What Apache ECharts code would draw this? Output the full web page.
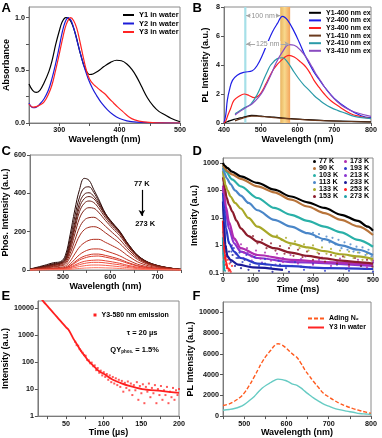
<!DOCTYPE html>
<html><head><meta charset="utf-8">
<script src="https://cdn.jsdelivr.net/npm/echarts@6/dist/echarts.min.js"></script>
<style>html,body{margin:0;padding:0;background:#fff}#c{width:382px;height:438px}</style>
</head><body><div id="c"></div>
<script>
// ---------- Panel A: absorbance ----------
const aY1 = [[250,0.37],[256,0.31],[262,0.29],[268,0.31],[274,0.37],[283,0.49],[289,0.61],[294,0.74],[300,0.87],[305,0.96],[311,1.0],[316,0.99],[322,0.93],[328,0.82],[334,0.68],[340,0.56],[345,0.49],[350,0.46],[356,0.465],[364,0.49],[374,0.535],[385,0.575],[395,0.595],[403,0.59],[412,0.56],[420,0.51],[428,0.44],[436,0.35],[446,0.24],[456,0.16],[465,0.11],[474,0.08],[485,0.045],[500,0.012]];
const aY2 = [[250,0.19],[253,0.16],[257,0.145],[262,0.15],[268,0.18],[275,0.23],[282,0.31],[288,0.42],[294,0.56],[300,0.72],[305,0.86],[310,0.96],[315,1.0],[320,0.97],[325,0.88],[330,0.77],[336,0.64],[342,0.52],[348,0.42],[355,0.33],[362,0.26],[370,0.19],[380,0.125],[390,0.075],[400,0.042],[412,0.02],[428,0.008],[450,0.003],[500,0]];
const aY3 = [[250,0.18],[253,0.16],[257,0.15],[262,0.155],[268,0.17],[275,0.2],[282,0.27],[288,0.36],[294,0.5],[300,0.65],[306,0.81],[312,0.94],[319,1.0],[324,0.97],[329,0.9],[334,0.78],[340,0.62],[345,0.5],[350,0.42],[356,0.37],[362,0.34],[368,0.31],[375,0.28],[383,0.23],[390,0.19],[397,0.15],[405,0.11],[415,0.06],[425,0.03],[440,0.01],[460,0.002],[500,0]];
const aNames = ['Y1 in water','Y2 in water','Y3 in water'];

// ---------- Panel B: PL spectra ----------
const bY1_400 = [[400,0],[410,0.1],[427,0.25],[445,0.35],[460,0.45],[475,0.52],[491,0.5],[510,0.45],[536,0.4],[560,0.34],[582,0.3],[620,0.24],[673,0.17],[720,0.13],[800,0.08]];
const bY2_400 = [[400,0],[405,0.6],[409,1.56],[415,2.3],[423,2.94],[436,3.3],[455,3.5],[477,3.6],[491,4.0],[505,4.7],[518,5.5],[532,6.3],[545,6.85],[559,7.36],[573,7.1],[591,6.3],[605,5.55],[618,4.8],[632,4.1],[645,3.5],[659,3.0],[673,2.5],[700,1.7],[736,1.0],[773,0.5],[800,0.35]];
const bY3_400 = [[400,0],[405,0.15],[410,0.5],[418,1.0],[427,1.56],[441,1.85],[455,2.0],[468,1.9],[482,1.75],[495,1.9],[505,2.25],[514,2.7],[525,3.25],[536,3.75],[555,4.3],[577,4.67],[591,4.55],[609,4.2],[623,3.86],[635,3.4],[645,2.94],[659,2.45],[673,2.0],[690,1.55],[709,1.2],[745,0.64],[770,0.45],[800,0.3]];
const bY1_410 = [[430,0.15],[445,0.28],[460,0.4],[475,0.48],[491,0.47],[510,0.43],[536,0.37],[560,0.32],[582,0.28],[620,0.22],[673,0.16],[720,0.12],[800,0.07]];
const bY2_410 = [[430,0.64],[440,0.8],[455,1.05],[473,1.3],[491,2.0],[500,2.5],[509,3.05],[518,3.55],[527,4.0],[545,4.44],[559,4.5],[573,4.2],[591,3.5],[605,3.0],[618,2.6],[632,2.25],[645,1.9],[659,1.6],[673,1.33],[690,1.08],[709,0.87],[730,0.68],[755,0.46],[800,0.3]];
const bY3_410 = [[430,0.55],[441,0.76],[459,1.05],[477,1.33],[495,1.8],[507,2.25],[518,2.8],[530,3.45],[541,4.1],[559,4.9],[577,5.4],[591,5.36],[609,5.0],[627,4.4],[640,3.85],[650,3.4],[662,2.95],[673,2.5],[690,1.95],[709,1.45],[730,1.05],[755,0.76],[800,0.46]];
const bNames = ['Y1-400 nm ex','Y2-400 nm ex','Y3-400 nm ex','Y1-410 nm ex','Y2-410 nm ex','Y3-410 nm ex'];
const bCyanBand = [455,461];
const bOrangeBand = [553,580];
const bArrow100 = [460,553,7.4];
const bArrow125 = [460,578,5.45];

// ---------- Panel C: temperature-dependent phosphorescence ----------
const cX = [430,460,480,495,505,515,525,535,545,555,565,575,590,605,620,640,665,700,750];
const c1 = [5,24,38,44,77,184,314,420,478,468,420,372,295,246,203,130,63,24,3];
const c2 = [4,20,33,40,65,160,280,380,428,434,405,362,292,244,200,128,62,23,3];
const c3 = [4,18,30,37,58,140,250,350,395,403,385,350,288,240,198,126,61,23,3];
const c4 = [4,17,28,35,54,128,232,328,372,383,372,340,283,236,195,124,60,22,3];
const c5 = [3,16,26,33,50,118,214,305,348,360,352,325,272,228,190,121,58,22,3];
const c6 = [3,14,23,30,44,104,188,270,312,325,322,302,258,217,180,115,56,21,3];
const c7 = [3,12,19,25,37,86,155,222,260,273,275,262,228,194,160,104,51,19,2];
const c8 = [2,10,16,21,30,68,124,178,210,223,226,220,194,167,139,91,45,17,2];
const c9 = [2,7,11,14,21,46,84,120,142,155,160,160,144,126,106,70,35,13,2];
const c10 = [1,5,8,10,14,31,56,80,96,106,110,110,100,88,74,49,25,9,1];
const c11 = [1,4,6,8,11,23,42,60,72,79,83,83,76,67,56,37,19,7,1];
const c12 = [1,3,5,7,9,20,36,52,62,69,72,73,67,59,49,33,17,6,1];
const c13 = [1,2,4,5,7,14,26,37,45,49,51,52,48,42,35,23,12,4,0];
const c14 = [0,2,3,4,5,11,20,28,34,38,40,40,37,32,27,18,9,3,0];
const c15 = [0,1,2,3,4,7,13,18,22,25,26,26,24,21,17,12,6,2,0];
const c16 = [0,1,1,1,2,3,6,8,10,11,12,12,11,10,8,5,3,1,0];
const cCurves = [c1,c2,c3,c4,c5,c6,c7,c8,c9,c10,c11,c12,c13,c14,c15,c16];
const cLabelTop = '77 K', cLabelBottom = '273 K';

// ---------- Panel D: decay curves ----------
const dTemps = ['77 K','90 K','103 K','113 K','133 K','153 K','173 K','193 K','213 K','233 K','253 K','273 K'];
const d77 = [[0,1000],[5,800],[14,656],[30,480],[59,325],[115,186],[171,106],[227,60],[282,37],[338,23],[394,13],[450,7.8],[483,4.8],[500,3.4]];
const d90 = [[0,900],[5,650],[14,500],[30,380],[59,260],[115,140],[171,85],[227,46],[282,26],[338,15],[394,8.5],[450,4.9],[500,2.4]];
const d103 = [[0,800],[5,600],[10,480],[30,250],[59,140],[115,53],[171,23],[227,13],[282,7.8],[338,4.8],[394,3.0],[450,1.6],[500,0.9]];
const d113 = [[0,650],[5,420],[12,280],[25,170],[40,100],[59,65],[85,35],[115,19],[171,8.5],[227,4.8],[282,2.8],[338,1.7],[394,1.0],[450,0.7],[500,0.45]];
const d133 = [[0,500],[3,300],[8,160],[15,100],[25,60],[40,35],[59,22],[85,10],[115,4.8],[171,2.1],[227,1.2],[282,0.85],[338,0.62],[394,0.48],[450,0.4],[500,0.32]];
const d153 = [[0,300],[3,200],[6,120],[12,55],[20,30],[31,17],[45,8],[59,4.2],[85,2.2],[115,1.37],[171,0.8],[227,0.55],[282,0.42],[338,0.34],[394,0.28],[450,0.25],[500,0.22]];
const d173 = [[0,150],[4,70],[10,25],[20,7],[37,1.8],[59,0.8],[115,0.45],[227,0.3],[340,0.25],[500,0.2]];
const d193 = [[0,80],[4,20],[10,4.2],[20,1.2],[37,0.6],[59,0.35],[115,0.22],[200,0.18],[350,0.15],[500,0.14]];
const d213 = [[0,120],[4,50],[10,15],[20,4],[37,1.2],[59,0.6],[115,0.35],[227,0.25],[500,0.18]];
const d233 = [[0,40],[3,8],[8,1.0],[15,0.4],[25,0.3],[50,0.2],[100,0.16],[200,0.13]];
const d253 = [[0,8],[3,1.5],[6,0.5],[10,0.25],[15,0.15],[25,0.12]];
const d273 = [[0,2],[2,0.3],[4,0.12]];
const dLines = [d77,d90,d103,d113,d133,d153,d173,d193,d213,d233,d253,d273];
const n113 = [[300,2.9],[310,2.0],[320,2.6],[330,1.5],[345,2.1],[355,1.3],[365,1.9],[375,1.1],[385,1.6],[395,0.8],[405,1.3],[415,0.7],[425,1.1],[435,0.6],[445,0.9],[455,0.55],[465,0.85],[475,0.45],[485,0.7],[495,0.4]];
const n133 = [[180,2.3],[195,1.6],[210,1.9],[225,1.0],[240,1.4],[255,0.8],[270,1.1],[285,0.65],[300,1.0],[315,0.55],[330,0.85],[345,0.5],[360,0.75],[375,0.42],[390,0.65],[405,0.38],[420,0.6],[435,0.35],[450,0.55],[465,0.3],[480,0.5],[495,0.28]];
const n153 = [[100,2.2],[115,1.2],[130,1.6],[145,0.8],[160,1.2],[175,0.65],[190,0.95],[205,0.5],[220,0.8],[235,0.42],[250,0.7],[265,0.38],[280,0.6],[300,0.3],[320,0.5],[340,0.26],[360,0.45],[380,0.22],[400,0.4],[420,0.2],[440,0.35],[460,0.18],[480,0.3],[498,0.17]];
const n173 = [[40,1.6],[50,0.9],[60,1.1],[70,0.55],[80,0.8],[95,0.4],[110,0.65],[125,0.33],[140,0.55],[160,0.28],[180,0.5],[200,0.25],[225,0.45],[250,0.22],[275,0.4],[300,0.2],[330,0.36],[360,0.18],[390,0.33],[420,0.17],[450,0.3],[480,0.16],[500,0.28]];
const n193 = [[20,1.3],[28,0.6],[36,0.8],[45,0.35],[55,0.55],[65,0.25],[78,0.45],[90,0.2],[105,0.38],[120,0.18],[140,0.32],[160,0.16],[185,0.28],[210,0.15],[240,0.25],[270,0.13],[300,0.22],[340,0.12],[380,0.2],[420,0.12],[460,0.18],[500,0.11]];
const n213 = [[30,1.0],[42,0.5],[55,0.7],[68,0.35],[82,0.55],[96,0.28],[110,0.45],[130,0.24],[150,0.4],[175,0.2],[200,0.35],[230,0.18],[260,0.32],[290,0.16],[320,0.3],[350,0.15],[380,0.27],[410,0.14],[440,0.25],[470,0.14],[500,0.24]];
const n233 = [[10,0.9],[15,0.4],[20,0.6],[26,0.25],[32,0.45],[40,0.18],[50,0.35],[60,0.15],[72,0.3],[85,0.13],[100,0.25],[120,0.12],[140,0.22],[165,0.11],[190,0.2],[220,0.11],[260,0.17]];
const n253 = [[3,0.8],[5,0.35],[7,0.6],[9,0.2],[11,0.4],[13,0.15],[16,0.3],[19,0.12],[22,0.22],[26,0.11],[30,0.18]];
const n273 = [[0,3],[1,1.2],[2,0.5],[3,0.25],[4,0.15],[5,0.3],[7,0.12]];
const dNoise = [null,null,null,n113,n133,n153,n173,n193,n213,n233,n253,n273];

// ---------- Panel E: Y3 580 nm decay ----------
const eName = 'Y3-580 nm emission';
const eLine = [[15,26000],[20,17000],[25,11860],[30,8220],[35,5710],[40,3960],[45,2750],[50,1910],[53,1600],[56,1150],[60,700],[65,420],[70,250],[75,165],[80,107],[85,78],[91,53],[96,42],[101,35],[111,23],[122,17],[134,13],[151,10],[176,8.5],[200,7.2]];
const eScatter = [[62,560],[64,420],[66,400],[68,300],[70,260],[72,220],[74,180],[76,170],[78,120],[80,115],[82,90],[84,95],[86,70],[88,75],[90,50],[92,60],[94,40],[96,48],[98,32],[100,42],[102,28],[104,36],[106,22],[108,32],[110,18],[112,28],[114,16],[116,25],[118,14],[120,22],[122,12],[124,20],[126,8],[128,17],[130,11],[132,19],[134,9],[136,16],[138,6],[140,14],[142,9],[144,18],[146,4],[148,13],[150,7],[152,15],[154,3],[156,12],[158,8],[160,16],[162,5],[164,11],[166,7],[168,14],[170,3],[172,10],[174,6],[176,13],[178,4],[180,9],[182,6],[184,12],[186,3],[188,8],[190,5],[192,11],[194,4],[196,9],[198,6],[200,10]];
const eTau = 'τ = 20 µs';
const eQY = '1.5%';

// ---------- Panel F: N2 purging ----------
const fNames = ['Ading N₂','Y3 in water'];
const fN2 = [[450,1016],[465,1180],[477,1430],[490,1800],[500,2220],[512,2950],[524,3800],[533,4500],[543,5240],[553,5850],[563,6350],[572,6800],[580,6980],[590,6850],[598,6600],[606,6300],[613,6030],[620,5800],[625,5650],[635,5050],[644,4440],[654,3880],[664,3330],[676,2750],[687,2220],[700,1850],[710,1590],[725,1250],[742,950],[758,720],[773,540],[788,380],[800,250]];
const fWater = [[450,570],[465,640],[477,730],[490,900],[500,1110],[512,1480],[524,1900],[533,2300],[543,2700],[553,3000],[563,3240],[572,3450],[580,3560],[590,3520],[598,3430],[606,3270],[613,3110],[620,3030],[625,2970],[635,2700],[644,2380],[654,2060],[664,1750],[676,1450],[687,1170],[700,960],[710,790],[725,620],[742,480],[758,370],[773,250],[788,200],[800,160]];

// ================= build chart =================
const FONT = 'Liberation Sans, Arial, sans-serif';
const chart = echarts.init(document.getElementById('c'), null, {renderer:'canvas'});
const plain = v => String(v);

function ax(gi, extra){
  const base = {
    gridIndex: gi, type:'value', nameLocation:'middle',
    nameTextStyle:{fontFamily:FONT, fontWeight:'bold', fontSize:9, color:'#000'},
    axisLine:{show:true, onZero:false, lineStyle:{color:'#7a7a7a', width:1}},
    axisTick:{show:true, inside:false, length:3, lineStyle:{color:'#555', width:1}},
    splitLine:{show:false},
    axisLabel:{fontFamily:FONT, fontWeight:'bold', fontSize:7.2, color:'#111', margin:4, formatter:plain}
  };
  const o = Object.assign({}, base, extra);
  if (extra.axisLabel) o.axisLabel = Object.assign({}, base.axisLabel, extra.axisLabel);
  if (extra.axisTick) o.axisTick = Object.assign({}, base.axisTick, extra.axisTick);
  return o;
}
const grids = [
  {left:29, top:7, width:151, height:116},
  {left:224, top:7, width:147, height:116},
  {left:30, top:155, width:151, height:115},
  {left:223, top:158, width:150, height:115},
  {left:29, top:301, width:150, height:116},
  {left:223, top:302, width:148, height:115}
].map(g => Object.assign({show:true, borderColor:'#8a8a8a', borderWidth:1, backgroundColor:'transparent'}, g));

const xAxes = [
  ax(0,{min:250,max:500,name:'Wavelength (nm)',nameGap:11,axisLabel:{customValues:[300,400,500]},axisTick:{customValues:[250,300,350,400,450,500]}}),
  ax(1,{min:400,max:800,interval:100,name:'Wavelength (nm)',nameGap:11}),
  ax(2,{min:430,max:750,name:'Wavelength (nm)',nameGap:11,axisLabel:{customValues:[500,600,700]},axisTick:{customValues:[450,500,550,600,650,700,750]}}),
  ax(3,{min:0,max:500,interval:100,name:'Time (ms)',nameGap:11}),
  ax(4,{min:12.5,max:200,name:'Time (µs)',nameGap:11,axisLabel:{customValues:[50,100,150,200]},axisTick:{customValues:[25,50,75,100,125,150,175,200]}}),
  ax(5,{min:450,max:800,name:'Wavelength (nm)',nameGap:11,axisLabel:{customValues:[500,600,700,800]},axisTick:{customValues:[450,500,550,600,650,700,750,800]}})
];
const yAxes = [
  ax(0,{min:0,max:1.1,name:'Absorbance',nameGap:16,axisLabel:{customValues:[0,0.5,1.0],formatter:v=>v.toFixed(1)},axisTick:{customValues:[0,0.25,0.5,0.75,1.0]}}),
  ax(1,{min:0,max:8,interval:2,name:'PL Intensity (a.u.)',nameGap:14}),
  ax(2,{min:0,max:600,interval:200,name:'Phos. Intensity (a.u.)',nameGap:17}),
  ax(3,{type:'log',logBase:10,min:0.1,max:1500,name:'Intensity (a.u.)',nameGap:19,axisLabel:{customValues:[0.1,1,10,100,1000]},axisTick:{customValues:[0.1,1,10,100,1000]}}),
  ax(4,{type:'log',logBase:10,min:1,max:18000,name:'Intensity (a.u.)',nameGap:21,axisLabel:{customValues:[1,10,100,1000,10000]},axisTick:{customValues:[1,10,100,1000,10000]}}),
  ax(5,{min:0,max:11000,name:'PL Intensity (a.u.)',nameGap:22,axisLabel:{customValues:[0,2000,4000,6000,8000,10000]},axisTick:{customValues:[0,2000,4000,6000,8000,10000]}})
];

const series = [];
function line(gi, name, data, color, extra){
  series.push(Object.assign({type:'line', name, data, xAxisIndex:gi, yAxisIndex:gi, smooth:0.4, symbol:'none',
    lineStyle:{color, width:1.2}, itemStyle:{color}, animation:false, silent:true, clip:true}, extra||{}));
}
// A
const aCol = ['#000000','#1c1cd8','#ff2424'];
[aY1,aY2,aY3].forEach((d,i)=>line(0,aNames[i],d,aCol[i]));
// B
const bCol = ['#000000','#1e1ee6','#ff2020','#6b3a1e','#2a9aa8','#8a4cc0'];
[bY1_400,bY2_400,bY3_400,bY1_410,bY2_410,bY3_410].forEach((d,i)=>line(1,bNames[i],d,bCol[i]));
const bFirst = series[3];
bFirst.markArea = {silent:true, data:[
  [{xAxis:bCyanBand[0], itemStyle:{color:'#a6e0e8'}},{xAxis:bCyanBand[1]}],
  [{xAxis:bOrangeBand[0], itemStyle:{color:new echarts.graphic.LinearGradient(0,0,1,0,[{offset:0,color:'#e9b560'},{offset:0.45,color:'#f8d88c'},{offset:1,color:'#f4a45c'}])}},{xAxis:bOrangeBand[1]}]
]};
bFirst.z = 1;
bFirst.markLine = {silent:true, symbol:['arrow','arrow'], symbolSize:[4,5], animation:false,
  lineStyle:{color:'#a8a8a8', type:'solid', width:1},
  label:{show:true, position:'middle', distance:-4, color:'#909090', fontFamily:FONT, fontSize:7, backgroundColor:'#fff', padding:[0,1]},
  data:[
    [{coord:[bArrow100[0],bArrow100[2]], label:{formatter:'100 nm'}},{coord:[bArrow100[1],bArrow100[2]]}],
    [{coord:[bArrow125[0],bArrow125[2]], label:{formatter:'125 nm'}},{coord:[bArrow125[1],bArrow125[2]]}]
  ]};
// C
const cCol = ['#2a0a08','#3d100c','#4e1610','#5e1a12','#6e1e14','#7e2216','#8e2618','#a02a1a','#b22e1e','#c23222','#d03626','#de3c2c','#e84434','#f05040','#f8604e','#ff7462'];
cCurves.forEach((arr,i)=>line(2,'C'+(i+1), cX.map((x,j)=>[x,arr[j]]), cCol[i], {lineStyle:{color:cCol[i], width:1}}));
const cFirst = series[series.length-16];
cFirst.markPoint = {silent:true, symbol:'circle', symbolSize:1, itemStyle:{color:'rgba(0,0,0,0)'}, animation:false,
  label:{show:true, color:'#000', fontFamily:FONT, fontWeight:'bold', fontSize:7.5},
  data:[{coord:[667,447], label:{formatter:cLabelTop}},{coord:[674,240], label:{formatter:cLabelBottom}}]};
cFirst.markLine = {silent:true, symbol:['none','arrow'], symbolSize:[5,6], animation:false,
  lineStyle:{color:'#000', type:'solid', width:1.2}, label:{show:false},
  data:[[{coord:[667,418]},{coord:[667,282]}]]};
// D
const dCol = ['#000000','#b8743a','#2ab0a8','#4a86c8','#a8a828','#8c1c2c','#b02cb0','#2a3cc8','#8a34d0','#1a1a98','#ff2020','#20a0a8'];
dLines.forEach((d,i)=>{
  line(3,dTemps[i],d,dCol[i],{smooth:0.3, smoothMonotone:'x', lineStyle:{color:dCol[i], width:2.2}, z:20-i});
  if (dNoise[i]) series.push({type:'scatter', name:dTemps[i], data:dNoise[i], xAxisIndex:3, yAxisIndex:3, symbol:'circle', symbolSize:2.2, itemStyle:{color:dCol[i]}, animation:false, silent:true, z:20-i});
});
// E
line(4,eName,eLine,'#ff2020',{smooth:0.3, lineStyle:{color:'#ff2020', width:1.8}});
const eFirst = series[series.length-1];
eFirst.markPoint = {silent:true, symbol:'circle', symbolSize:1, itemStyle:{color:'rgba(0,0,0,0)'}, animation:false,
  label:{show:true, color:'#000', fontFamily:FONT, fontWeight:'bold', fontSize:7.5},
  data:[{coord:[151,1210], label:{formatter:eTau}},
        {coord:[141,290], label:{formatter:'{a|QY}{b|phos.}{a| = '+eQY+'}', rich:{a:{fontFamily:FONT,fontWeight:'bold',fontSize:7.5,color:'#000'}, b:{fontFamily:FONT,fontWeight:'bold',fontSize:4.5,color:'#000',padding:[5,0,0,0]}}}}]};
series.push({type:'scatter', name:eName, data:eScatter, xAxisIndex:4, yAxisIndex:4, symbol:'rect', symbolSize:2, itemStyle:{color:'#ff3030'}, animation:false, silent:true});
// F
line(5,fNames[0],fN2,'#ff5a1e',{lineStyle:{color:'#ff5a1e', width:1.4, type:[4,2]}});
line(5,fNames[1],fWater,'#66cbc3',{lineStyle:{color:'#66cbc3', width:1.4}});

const legTxt = (fs,lh)=>({fontFamily:FONT, fontWeight:'bold', fontSize:fs, color:'#000', lineHeight:lh});
const noSym = {color:'rgba(0,0,0,0)', borderWidth:0};
const legends = [
  {data:aNames, left:122, top:11, orient:'vertical', itemWidth:11, itemHeight:6, itemGap:0.5, itemStyle:noSym, textStyle:legTxt(7.5,8), selectedMode:false},
  {data:bNames, left:308, top:9, orient:'vertical', itemWidth:12, itemHeight:5, itemGap:0, itemStyle:noSym, textStyle:legTxt(7,7.6), selectedMode:false},
  {data:dTemps.slice(0,6), left:313, top:158, orient:'vertical', icon:'circle', itemWidth:3, itemHeight:3, itemGap:0, textStyle:Object.assign(legTxt(7.2,7),{padding:[0,0,0,-2]}), selectedMode:false},
  {data:dTemps.slice(6), left:344, top:158, orient:'vertical', icon:'circle', itemWidth:3, itemHeight:3, itemGap:0, textStyle:Object.assign(legTxt(7.2,7),{padding:[0,0,0,-2]}), selectedMode:false},
  {data:[eName], left:93.5, top:311, icon:'rect', itemWidth:3, itemHeight:3, textStyle:legTxt(7,8), selectedMode:false},
  {data:fNames, left:307, top:314, orient:'vertical', itemWidth:16, itemHeight:5, itemGap:0, itemStyle:noSym, textStyle:legTxt(7,9), selectedMode:false}
].map(l=>Object.assign({padding:0}, l));

const letters = [['A',1.5,1.5],['B',192.5,1.5],['C',1.5,145],['D',192.5,145],['E',1.5,290],['F',192.5,290]];
const graphic = letters.map(([t,x,y])=>({type:'text', left:x, top:y, silent:true, style:{text:t, font:'bold 13px '+FONT, fill:'#000'}}));

chart.setOption({animation:false, backgroundColor:'#fff', grid:grids, xAxis:xAxes, yAxis:yAxes, legend:legends, series, graphic});
</script></body></html>
